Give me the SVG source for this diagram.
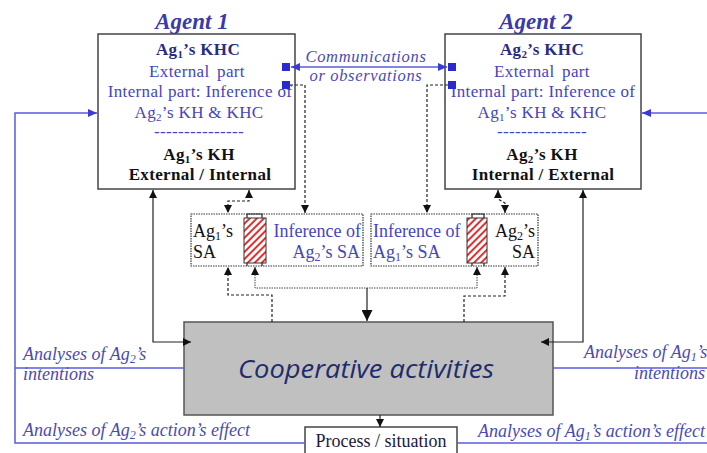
<svg xmlns="http://www.w3.org/2000/svg" width="707" height="453" viewBox="0 0 707 453">
<style>
.box{fill:#fff;stroke:#444;stroke-width:1.5}
.sa{fill:#fff;stroke:#333;stroke-width:1.2;stroke-dasharray:1.5 1}
.hatch{fill:url(#hat);stroke:#333;stroke-width:1}
.t{font-family:"Liberation Serif","Times New Roman",serif;font-size:18px}
.ta{font-family:"Liberation Serif","Times New Roman",serif;font-size:17px;letter-spacing:0.35px}
.tb{font-weight:bold}
.blue{fill:#4545c0}
.navy{fill:#2a2a80}
.blk{fill:#111}
.ti{font-family:"Liberation Serif","Times New Roman",serif;font-style:italic;font-size:18px;fill:#4a4ab5}
.tc{font-family:"Liberation Serif","Times New Roman",serif;font-style:italic;font-size:16.5px;letter-spacing:0.65px;fill:#4a4ab5}
.title{font-family:"Liberation Serif","Times New Roman",serif;font-style:italic;font-weight:bold;font-size:23px;fill:#3a3aaa}
.bl{fill:none;stroke:#5a5ae0;stroke-width:1.5}
.sq{fill:#2a2ad0}
.dash{fill:none;stroke:#222;stroke-width:1.2;stroke-dasharray:3 2}
.dot{fill:none;stroke:#444;stroke-width:1;stroke-dasharray:1.5 1}
.sol{fill:none;stroke:#222;stroke-width:1.2}
</style>
<defs>
<pattern id="hat" patternUnits="userSpaceOnUse" width="5" height="5" patternTransform="rotate(45)">
<rect width="5" height="5" fill="#fff"/>
<rect x="0" y="0" width="2" height="5" fill="#e03030"/>
</pattern>
<marker id="ab" markerUnits="userSpaceOnUse" markerWidth="8" markerHeight="8" refX="8" refY="4" orient="auto-start-reverse" viewBox="0 0 8 8">
<path d="M0,0 L8,4 L0,8 z" fill="#111"/>
</marker>
<marker id="abig" markerUnits="userSpaceOnUse" markerWidth="11" markerHeight="11" refX="11" refY="5.5" orient="auto-start-reverse" viewBox="0 0 11 11">
<path d="M0,0 L11,5.5 L0,11 z" fill="#111"/>
</marker>
<marker id="au" markerUnits="userSpaceOnUse" markerWidth="9" markerHeight="8" refX="9" refY="4" orient="auto-start-reverse" viewBox="0 0 9 8">
<path d="M0,0 L9,4 L0,8 z" fill="#3a3ad8"/>
</marker>
</defs>

<g id="agent1">
<text class="title" x="192" y="29" text-anchor="middle">Agent 1</text>
<rect class="box" x="98" y="34" width="197" height="155"/>
<text class="ta tb navy" x="198" y="55" text-anchor="middle">Ag<tspan font-size="11" dy="2.5">1</tspan><tspan dy="-2.5">’s KHC</tspan></text>
<text class="ta blue" x="197" y="77" text-anchor="middle" word-spacing="3">External part</text>
<text class="ta blue" x="200" y="97" text-anchor="middle">Internal part: Inference of</text>
<text class="ta blue" x="199" y="118" text-anchor="middle">Ag<tspan font-size="11" dy="2.5">2</tspan><tspan dy="-2.5">’s KH &amp; KHC</tspan></text>
<text class="ta blue" x="199" y="137" text-anchor="middle">---------------</text>
<text class="ta tb blk" x="199" y="160" text-anchor="middle">Ag<tspan font-size="11" dy="2.5">1</tspan><tspan dy="-2.5">’s KH</tspan></text>
<text class="ta tb blk" x="200" y="180" text-anchor="middle">External / Internal</text>
<rect class="sq" x="282" y="63" width="8" height="8"/>
<rect class="sq" x="282" y="81" width="8" height="8"/>
</g>

<g id="agent2">
<text class="title" x="536" y="29" text-anchor="middle">Agent 2</text>
<rect class="box" x="445" y="34" width="196" height="155"/>
<text class="ta tb navy" x="542" y="55" text-anchor="middle">Ag<tspan font-size="11" dy="2.5">2</tspan><tspan dy="-2.5">’s KHC</tspan></text>
<text class="ta blue" x="542" y="77" text-anchor="middle" word-spacing="3">External part</text>
<text class="ta blue" x="543" y="97" text-anchor="middle">Internal part: Inference of</text>
<text class="ta blue" x="542" y="118" text-anchor="middle">Ag<tspan font-size="11" dy="2.5">1</tspan><tspan dy="-2.5">’s KH &amp; KHC</tspan></text>
<text class="ta blue" x="542" y="137" text-anchor="middle">---------------</text>
<text class="ta tb blk" x="542" y="160" text-anchor="middle">Ag<tspan font-size="11" dy="2.5">2</tspan><tspan dy="-2.5">’s KH</tspan></text>
<text class="ta tb blk" x="543" y="180" text-anchor="middle">Internal / External</text>
<rect class="sq" x="448" y="63" width="8" height="8"/>
<rect class="sq" x="448" y="81" width="8" height="8"/>
</g>

<g id="comm-label">
<text class="tc" x="366" y="61.5" text-anchor="middle">Communications</text>
<text class="tc" x="366" y="81" text-anchor="middle">or observations</text>
</g>

<g id="sa1">
<rect class="sa" x="191" y="214" width="172" height="52"/>
<path class="sol" d="M247,218 V214 H262 V218 M247,263 V266 M262,263 V266" stroke-width="1"/>
<rect class="hatch" x="244" y="218" width="22" height="45"/>
<text class="t blk" x="193" y="237">Ag<tspan font-size="12" dy="3">1</tspan><tspan dy="-3">’s</tspan></text>
<text class="t blk" x="193" y="258">SA</text>
<text class="t blue" x="361" y="237" text-anchor="end">Inference of</text>
<text class="t blue" x="360" y="258" text-anchor="end">Ag<tspan font-size="12" dy="3">2</tspan><tspan dy="-3">’s SA</tspan></text>
</g>

<g id="sa2">
<rect class="sa" x="371" y="214" width="167" height="52"/>
<path class="sol" d="M472,218 V214 H484 V218 M472,263 V266 M484,263 V266" stroke-width="1"/>
<rect class="hatch" x="467" y="218" width="20" height="45"/>
<text class="t blue" x="373" y="237">Inference of</text>
<text class="t blue" x="373" y="258">Ag<tspan font-size="12" dy="3">1</tspan><tspan dy="-3">’s SA</tspan></text>
<text class="t blk" x="535" y="237" text-anchor="end">Ag<tspan font-size="12" dy="3">2</tspan><tspan dy="-3">’s</tspan></text>
<text class="t blk" x="535" y="258" text-anchor="end">SA</text>
</g>

<g id="coop">
<rect x="184" y="322" width="369" height="93" fill="#c0c0c0" stroke="#555" stroke-width="1.5"/>
<text x="366" y="378" text-anchor="middle" font-family="'Open Sans','Noto Sans',sans-serif" font-style="italic" font-size="25" fill="#1e2c6c" textLength="256" lengthAdjust="spacingAndGlyphs">Cooperative activities</text>
</g>

<g id="process">
<rect class="box" x="305" y="427" width="152" height="40"/>
<text class="t" x="381" y="447" text-anchor="middle" fill="#1a1a3a" font-size="19">Process / situation</text>
</g>

<g id="labels">
<text class="ti" x="23" y="360">Analyses of Ag<tspan font-size="12" dy="3">2</tspan><tspan dy="-3">’s</tspan></text>
<text class="ti" x="23" y="380">intentions</text>
<text class="ti" x="23" y="436">Analyses of Ag<tspan font-size="12" dy="3">2</tspan><tspan dy="-3">’s action’s effect</tspan></text>
<text class="ti" x="584" y="358">Analyses of Ag<tspan font-size="12" dy="3">1</tspan><tspan dy="-3">’s</tspan></text>
<text class="ti" x="705" y="379" text-anchor="end">intentions</text>
<text class="ti" x="478" y="437">Analyses of Ag<tspan font-size="12" dy="3">1</tspan><tspan dy="-3">’s action’s effect</tspan></text>
</g>

<g id="connectors">
<path class="bl" d="M305,443 H15 V113 H97" marker-end="url(#au)"/>
<path class="bl" d="M15,368 H184"/>
<path class="bl" d="M553,368 H707"/>
<path class="bl" d="M457,443 H707"/>
<path class="bl" d="M707,113 H642" marker-end="url(#au)"/>
<path class="bl" d="M291,67 H447" marker-start="url(#au)" marker-end="url(#au)"/>
<path class="dash" d="M290,85 H305 V213" marker-end="url(#ab)"/>
<path class="dash" d="M448,85 H427 V213" marker-end="url(#ab)"/>
<path class="sol" d="M191,342 H153 V190" marker-start="url(#ab)" marker-end="url(#ab)"/>
<path class="sol" d="M583,190 V342 H541" marker-start="url(#ab)" marker-end="url(#ab)"/>
<path class="dash" d="M249,190 V201 H228 V213" marker-start="url(#ab)" marker-end="url(#ab)"/>
<path class="dash" d="M498,190 V199 L505,203 V213" marker-start="url(#ab)" marker-end="url(#ab)"/>
<path class="dash" d="M272,322 V295 H228 V267" marker-end="url(#ab)"/>
<path class="dash" d="M464,322 V296 H505 V267" marker-end="url(#ab)"/>
<path class="dot" d="M255,267 V288 H477 V267" marker-start="url(#ab)" marker-end="url(#ab)"/>
<path class="sol" d="M367,288 V321" marker-end="url(#abig)"/>
<path class="sol" d="M380,415 V427" marker-end="url(#ab)"/>
</g>
</svg>
